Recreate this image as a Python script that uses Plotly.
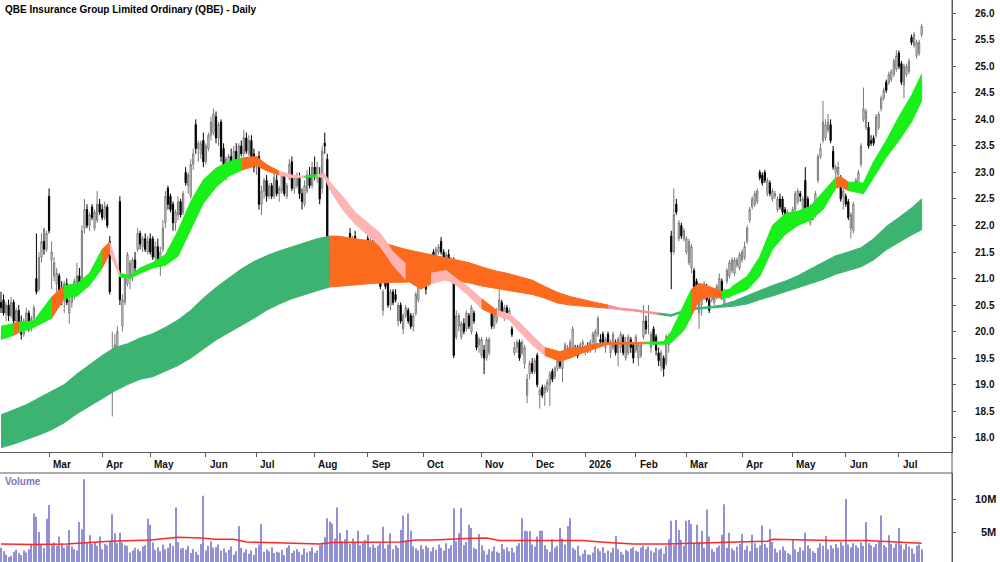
import plotly.graph_objects as go

# ------------------------------------------------------------------ data
month_idx = [19, 40, 59, 81, 101, 124, 145, 167, 190, 210, 231, 251, 271, 293, 313, 334, 355]
month_lbl = ["Mar", "Apr", "May", "Jun", "Jul", "Aug", "Sep", "Oct", "Nov", "Dec",
             "2026", "Feb", "Mar", "Apr", "May", "Jun", "Jul"]

opens = [
    20.55,20.60,20.35,20.50,20.30,20.55,20.20,20.40,20.15,19.95,
    20.20,20.35,20.10,20.25,21.00,20.80,21.40,21.70,21.55,22.55,
    21.35,21.05,20.90,21.05,20.75,20.65,20.90,20.35,20.55,20.70,
    20.90,21.05,21.00,21.95,22.30,22.00,22.35,21.95,22.10,22.40,
    22.30,22.15,22.35,21.70,19.05,19.40,19.70,22.45,20.10,20.55,
    20.90,21.00,21.05,21.35,21.55,21.85,21.60,21.75,21.50,21.75,
    21.75,21.40,21.60,21.35,21.55,22.05,22.70,22.55,22.40,22.05,
    22.20,22.45,22.25,23.00,22.75,22.55,23.15,23.90,23.45,23.35,
    23.60,23.20,23.45,23.70,23.75,24.05,23.65,23.95,23.45,23.10,
    23.00,23.30,23.15,23.40,23.20,23.50,23.35,23.65,23.35,23.60,
    23.35,23.10,23.30,22.40,22.65,22.85,22.55,22.75,22.55,22.85,
    22.60,22.65,22.95,22.55,22.90,23.20,22.70,22.75,22.90,22.60,
    22.40,22.65,22.95,22.75,23.10,22.90,22.95,22.70,23.55,23.25,
    21.45,21.05,21.40,21.15,21.50,21.35,21.65,21.40,21.85,21.65,
    21.80,21.35,21.10,21.20,21.50,21.75,21.45,21.70,21.30,21.50,
    21.55,20.40,21.00,21.00,20.50,20.75,20.70,20.20,20.50,20.05,
    20.30,20.40,20.30,20.10,20.35,20.60,20.85,21.00,21.05,21.00,
    21.20,21.50,21.35,21.50,21.70,21.50,21.30,21.45,21.20,21.35,
    19.90,20.10,19.90,20.15,20.05,20.30,20.00,20.35,19.95,19.75,
    19.55,19.65,19.50,19.60,20.35,20.10,20.20,20.35,20.55,20.25,
    20.45,20.30,20.05,19.60,19.70,19.80,19.60,19.40,18.80,19.20,
    19.40,19.25,19.55,18.80,18.95,18.85,18.90,19.00,19.25,19.15,
    19.30,19.50,19.30,19.60,19.60,19.65,19.65,19.70,19.65,19.65,
    19.75,19.65,19.70,19.65,19.80,19.70,19.95,19.85,19.95,19.70,
    19.95,19.60,19.70,19.80,19.60,19.70,19.90,19.50,19.60,19.85,
    19.75,19.65,19.50,19.55,19.90,20.20,20.10,19.70,20.05,19.90,
    19.60,19.35,19.50,19.40,19.75,21.80,21.50,22.40,21.75,22.00,
    21.75,21.50,21.30,21.20,21.15,20.95,20.35,20.50,20.65,20.85,
    20.60,20.60,20.55,20.65,20.70,20.95,20.50,20.95,21.05,21.15,
    21.10,21.25,21.20,21.35,21.40,21.70,22.10,22.35,22.40,22.45,
    23.00,22.95,23.00,22.60,22.80,22.50,22.55,22.30,22.50,22.50,
    22.30,22.10,22.20,22.15,22.30,22.45,22.60,22.30,22.85,22.50,
    22.05,22.35,22.20,22.85,23.30,23.60,23.65,23.80,23.90,23.40,
    23.00,22.95,22.85,22.55,22.55,22.45,21.95,21.90,22.70,22.80,
    23.15,24.00,23.85,23.85,23.60,23.65,23.70,23.85,24.20,24.40,
    24.70,24.70,24.75,24.85,24.95,25.25,25.05,24.65,24.85,24.90,
    25.55,25.40,25.20,25.25,25.60,
]
highs = [
    20.75,20.70,20.55,20.60,20.65,20.60,20.45,20.50,20.30,20.25,
    20.45,20.40,20.30,20.50,21.85,21.50,21.85,21.95,21.90,22.70,
    21.70,21.40,21.20,21.10,20.95,20.95,21.00,20.65,20.85,21.00,
    21.30,21.20,22.00,22.50,22.40,22.25,22.40,22.30,22.65,22.50,
    22.40,22.45,22.40,21.80,20.00,19.95,20.10,22.55,20.70,21.05,
    21.50,21.35,21.40,21.50,21.95,21.90,21.80,21.85,21.80,21.85,
    21.80,21.70,21.75,21.60,22.10,22.65,22.75,22.60,22.45,22.30,
    22.55,22.50,22.65,23.10,23.00,23.25,23.45,24.00,23.60,23.60,
    23.75,23.55,23.75,24.05,24.20,24.15,23.95,24.00,23.55,23.30,
    23.35,23.45,23.50,23.55,23.55,23.60,23.80,23.75,23.70,23.70,
    23.45,23.30,23.40,22.75,22.90,22.95,22.80,22.80,23.00,22.95,
    22.75,23.00,23.00,22.80,23.25,23.30,22.95,23.00,23.00,22.70,
    22.85,23.05,23.10,23.20,23.30,23.20,23.10,23.50,23.75,23.35,
    21.55,21.45,21.50,21.60,21.60,21.80,21.75,21.65,21.95,21.80,
    21.90,21.45,21.35,21.60,21.65,21.85,21.80,21.80,21.75,21.85,
    21.70,20.80,21.05,21.05,20.80,20.80,20.80,20.55,20.55,20.35,
    20.50,20.45,20.35,20.35,20.75,20.90,21.20,21.20,21.10,21.25,
    21.45,21.55,21.60,21.65,21.78,21.55,21.50,21.55,21.40,21.40,
    20.40,20.35,20.20,20.25,20.40,20.35,20.50,20.40,20.00,19.90,
    19.90,19.75,19.90,19.90,20.40,20.35,20.45,20.80,20.60,20.50,
    20.50,20.45,20.10,19.80,19.85,19.85,19.85,19.75,19.20,19.45,
    19.50,19.50,19.60,18.95,19.00,19.00,19.10,19.25,19.30,19.35,
    19.50,19.60,19.65,19.80,19.75,19.85,20.10,19.75,19.75,19.80,
    19.85,19.75,19.80,19.85,20.00,20.05,20.30,19.95,20.00,19.90,
    20.00,19.85,20.00,19.85,19.90,20.00,19.95,19.90,19.95,19.90,
    19.80,19.95,19.80,19.80,20.50,20.30,20.50,20.00,20.10,19.95,
    19.70,19.65,19.55,19.95,19.95,21.90,22.70,22.50,22.10,22.05,
    21.95,21.80,21.75,21.65,21.20,21.00,20.90,20.90,20.95,20.90,
    20.65,20.75,20.70,20.90,21.10,21.00,20.80,21.20,21.35,21.40,
    21.40,21.40,21.50,21.55,21.70,22.00,22.35,22.55,22.65,22.70,
    23.05,23.00,23.05,22.90,22.85,22.70,22.65,22.55,22.60,22.55,
    22.35,22.30,22.25,22.35,22.65,22.70,22.65,22.55,23.10,22.55,
    22.40,22.40,22.65,23.35,23.55,24.35,24.00,24.10,24.00,23.50,
    23.15,23.20,22.95,22.70,22.60,22.50,22.25,22.45,22.90,23.05,
    23.55,24.60,24.20,23.95,23.70,23.70,24.10,24.15,24.45,24.60,
    24.75,24.90,24.95,25.15,25.30,25.30,25.10,25.05,25.05,25.15,
    25.60,25.65,25.50,25.50,25.80,
]
lows = [
    20.35,20.30,20.20,20.20,20.25,20.10,20.10,20.05,19.85,19.90,
    20.05,20.00,20.00,20.20,20.70,20.75,21.30,21.45,21.50,21.85,
    20.80,20.95,20.75,20.65,20.50,20.35,20.50,20.15,20.45,20.60,
    20.85,20.75,20.95,21.85,21.95,21.90,22.10,21.90,22.05,22.20,
    22.10,22.10,21.95,20.70,18.40,19.25,19.50,20.50,20.00,20.50,
    20.85,20.80,20.95,21.10,21.50,21.55,21.50,21.50,21.45,21.45,
    21.35,21.30,21.30,21.05,21.50,21.95,22.30,22.25,21.90,21.90,
    22.10,22.15,22.20,22.75,22.60,22.50,23.05,23.35,23.20,23.25,
    23.10,23.15,23.40,23.60,23.70,23.55,23.50,23.20,23.05,22.85,
    22.95,23.10,23.10,23.15,23.15,23.30,23.30,23.35,23.30,23.25,
    23.00,22.95,22.30,22.20,22.50,22.45,22.50,22.50,22.50,22.55,
    22.45,22.60,22.55,22.50,22.85,22.65,22.60,22.70,22.50,22.30,
    22.35,22.60,22.70,22.70,22.85,22.80,22.40,22.60,23.35,21.35,
    20.95,20.85,20.90,21.05,21.15,21.30,21.30,21.30,21.60,21.50,
    21.05,21.00,21.00,21.15,21.25,21.20,21.40,21.55,21.25,21.45,
    20.80,20.30,20.80,20.45,20.40,20.50,20.55,20.10,20.15,19.95,
    20.25,20.15,20.05,20.00,20.30,20.55,20.80,20.90,20.70,20.95,
    21.10,21.25,21.30,21.45,21.45,21.25,21.20,21.15,21.10,19.50,
    19.85,20.00,19.85,19.95,20.00,20.05,19.95,20.15,19.65,19.60,
    19.50,19.20,19.45,19.55,20.05,20.05,20.15,20.30,20.30,20.20,
    20.30,20.25,19.90,19.55,19.60,19.45,19.55,19.30,18.65,19.10,
    19.20,19.20,18.95,18.55,18.75,18.60,18.85,18.60,19.05,19.10,
    19.25,19.30,19.05,19.55,19.55,19.60,19.60,19.55,19.50,19.60,
    19.70,19.55,19.60,19.60,19.75,19.60,19.90,19.75,19.75,19.60,
    19.75,19.50,19.65,19.55,19.35,19.60,19.55,19.45,19.55,19.60,
    19.40,19.60,19.35,19.50,19.85,19.95,19.95,19.60,19.75,19.55,
    19.35,19.25,19.15,19.35,19.60,20.80,21.45,22.20,21.70,21.75,
    21.70,21.45,21.25,21.10,20.80,20.60,20.05,20.30,20.60,20.55,
    20.35,20.55,20.50,20.60,20.65,20.60,20.45,20.90,21.00,21.10,
    21.05,21.20,21.15,21.30,21.35,21.65,22.05,22.30,22.35,22.40,
    22.85,22.75,22.80,22.55,22.55,22.45,22.50,22.25,22.30,22.20,
    22.00,22.05,22.05,22.10,22.25,22.40,22.45,22.25,22.10,22.10,
    22.00,22.10,22.15,22.80,23.25,23.55,23.60,23.75,23.55,23.05,
    22.90,22.90,22.45,22.30,22.35,22.10,21.75,21.85,22.65,22.75,
    23.10,23.95,23.80,23.45,23.50,23.50,23.65,23.80,24.15,24.35,
    24.50,24.65,24.70,24.80,24.90,24.95,24.65,24.40,24.80,24.85,
    25.40,25.35,25.15,25.20,25.55,
]
closes = [
    20.45,20.35,20.50,20.30,20.55,20.20,20.40,20.15,19.95,20.20,
    20.35,20.10,20.25,20.45,20.75,21.40,21.70,21.55,21.85,21.90,
    21.50,21.30,21.10,20.75,20.60,20.90,20.55,20.60,20.80,20.95,
    21.05,20.85,21.90,22.30,22.00,22.20,22.15,22.25,22.40,22.25,
    22.15,22.35,22.00,20.75,19.35,19.75,20.00,20.60,20.60,21.00,
    21.45,21.30,21.35,21.20,21.85,21.65,21.75,21.55,21.70,21.50,
    21.40,21.60,21.35,21.50,21.95,22.55,22.40,22.30,22.05,22.25,
    22.45,22.20,22.60,22.80,22.95,23.15,23.35,23.45,23.55,23.55,
    23.20,23.50,23.70,23.95,24.10,23.65,23.90,23.30,23.10,23.25,
    23.30,23.15,23.40,23.20,23.50,23.35,23.65,23.40,23.60,23.30,
    23.10,23.25,22.40,22.65,22.85,22.55,22.75,22.55,22.90,22.60,
    22.70,22.95,22.60,22.75,23.15,22.70,22.90,22.95,22.60,22.45,
    22.75,22.95,22.75,23.10,22.95,23.10,22.50,23.40,23.50,21.40,
    21.05,21.40,21.00,21.55,21.25,21.70,21.40,21.60,21.65,21.75,
    21.10,21.05,21.30,21.50,21.30,21.25,21.70,21.60,21.65,21.75,
    20.85,20.75,20.85,20.50,20.75,20.55,20.60,20.50,20.20,20.30,
    20.45,20.20,20.10,20.30,20.70,20.85,21.15,21.10,20.80,21.20,
    21.40,21.30,21.55,21.60,21.50,21.30,21.45,21.20,21.35,19.55,
    20.30,20.30,20.15,20.00,20.35,20.10,20.45,20.20,19.70,19.85,
    19.85,19.50,19.85,19.85,20.10,20.30,20.40,20.60,20.35,20.45,
    20.35,20.40,19.95,19.70,19.80,19.50,19.80,19.70,19.10,19.40,
    19.25,19.45,19.00,18.90,18.80,18.95,19.05,19.20,19.10,19.30,
    19.45,19.35,19.60,19.75,19.70,19.80,20.05,19.60,19.55,19.75,
    19.80,19.70,19.65,19.80,19.95,20.00,20.25,19.80,19.80,19.85,
    19.80,19.80,19.95,19.60,19.85,19.95,19.60,19.80,19.90,19.70,
    19.50,19.90,19.75,19.75,20.20,20.05,20.10,19.95,19.80,19.65,
    19.45,19.60,19.30,19.90,19.90,21.50,22.20,22.25,22.05,21.80,
    21.90,21.75,21.70,21.60,20.85,20.65,20.85,20.80,20.90,20.60,
    20.40,20.70,20.65,20.85,21.00,20.65,20.75,21.15,21.30,21.35,
    21.35,21.35,21.45,21.50,21.60,21.95,22.30,22.50,22.60,22.65,
    22.90,22.80,22.85,22.85,22.60,22.65,22.60,22.50,22.35,22.25,
    22.05,22.25,22.10,22.30,22.60,22.65,22.55,22.50,22.15,22.15,
    22.35,22.20,22.60,23.30,23.45,23.95,23.90,23.95,23.60,23.10,
    23.10,23.10,22.50,22.65,22.40,22.15,22.20,22.40,22.85,23.00,
    23.50,24.20,24.15,23.50,23.55,23.55,24.05,24.10,24.40,24.55,
    24.55,24.85,24.90,25.10,25.20,25.00,24.70,25.00,25.00,25.10,
    25.45,25.60,25.45,25.45,25.75,
]
volume_m = [
    2.6,2.1,1.6,1.2,1.4,2.0,2.3,1.8,1.5,2.2,
    1.9,2.4,3.1,7.8,7.3,5.0,3.2,2.6,7.0,9.1,
    3.0,3.4,2.9,4.3,3.3,2.6,3.0,5.3,2.8,2.4,
    2.2,6.5,5.4,13.0,3.3,4.5,3.2,3.5,2.9,4.3,
    2.4,3.2,3.0,3.6,7.7,4.8,3.3,4.9,3.4,3.0,
    2.9,1.9,2.2,2.6,2.4,2.1,2.8,3.0,7.0,6.1,
    3.4,2.3,2.7,2.1,3.1,2.4,2.6,3.3,2.9,8.7,
    3.5,2.5,2.6,2.3,2.9,1.8,2.4,2.0,1.6,3.2,
    10.5,2.2,2.9,3.6,2.6,2.7,3.1,2.2,2.5,1.9,
    2.3,2.8,1.6,2.1,5.9,2.6,1.9,2.4,1.7,2.2,
    1.5,2.6,3.1,6.2,2.0,2.4,2.1,2.7,1.8,2.0,
    1.9,2.3,1.5,2.6,3.0,1.8,2.2,2.4,2.0,1.6,
    2.5,1.9,2.1,2.7,1.8,2.2,3.0,3.4,4.2,7.1,
    6.6,6.3,4.0,8.7,4.9,3.6,3.9,5.3,3.2,4.0,
    3.5,5.2,3.0,3.3,3.8,4.6,2.7,3.1,2.6,2.9,
    3.3,5.8,2.5,3.1,4.8,2.4,3.0,2.6,5.3,7.5,
    3.7,7.8,5.2,2.8,2.5,2.2,3.0,2.4,2.9,2.6,
    2.1,2.7,2.3,3.1,2.6,2.2,3.3,2.5,3.0,8.6,
    3.6,4.8,8.6,3.0,3.5,6.1,5.6,2.6,2.4,4.7,
    3.0,2.2,1.6,2.4,2.1,2.8,2.0,1.8,3.2,2.4,
    2.7,2.1,2.6,1.9,2.9,3.3,7.1,5.2,5.1,5.1,
    3.1,2.8,4.3,5.2,5.2,3.0,2.4,2.0,3.9,2.6,
    2.9,5.6,4.0,3.1,5.9,7.1,2.6,2.3,2.9,1.4,
    1.7,2.3,1.6,1.5,1.9,2.8,2.5,2.1,2.7,1.8,
    2.2,1.9,2.6,4.4,2.4,2.0,1.6,2.3,2.1,2.5,
    2.7,2.2,2.0,2.6,2.9,2.4,2.8,2.2,1.9,2.6,
    2.3,2.5,1.7,2.9,3.9,6.7,3.0,6.8,5.3,3.8,
    2.9,6.7,6.8,6.2,3.2,6.1,3.4,5.2,2.6,8.4,
    4.3,2.4,2.0,2.6,2.9,4.6,9.2,2.6,4.9,2.5,
    2.2,2.8,3.2,4.7,2.3,2.9,2.1,4.6,3.3,2.6,
    3.0,6.0,3.2,2.6,5.4,3.5,2.5,1.9,2.3,2.8,
    2.2,1.8,1.6,3.8,2.4,2.0,2.7,2.2,4.9,3.0,
    2.5,2.1,1.8,2.6,3.3,2.9,4.4,2.4,3.0,2.5,
    3.2,2.6,3.5,2.9,10.0,3.1,2.7,3.3,3.0,2.6,
    3.4,2.9,6.5,3.3,3.0,2.7,3.2,3.6,7.5,3.0,
    2.7,4.5,3.2,2.6,3.3,5.6,3.1,2.4,3.2,2.8,
    2.5,1.7,2.9,3.1,2.4,
]
vol_ma_idx = [0, 13, 26, 43, 59, 70, 79, 85, 92, 97, 105, 118, 126, 131, 145, 158, 164, 171,
              184, 192, 197, 210, 230, 237, 250, 263, 276, 290, 303, 305, 316, 329, 342, 355, 364]
vol_ma_m = [3.2, 3.1, 3.2, 3.6, 3.8, 4.2, 4.1, 3.9, 3.9, 3.5, 3.4, 3.3, 3.2, 3.4, 3.5, 3.5, 3.8, 3.8,
            4.0, 4.1, 3.7, 3.7, 3.7, 3.5, 3.2, 3.2, 3.3, 3.4, 3.6, 3.9, 3.8, 3.7, 3.7, 3.4, 3.3]

# short-term moving-average ribbon (edges) and its trend state
short_idx = [0, 5, 7, 13, 20, 25, 30, 35, 40, 43, 47, 51, 55, 60, 65, 70, 75, 80, 85, 90, 95,
             101, 105, 110, 115, 120, 125, 128, 130, 135, 140, 145, 150, 155, 160, 166, 170, 176,
             180, 185, 190, 196, 201, 205, 210, 215, 221, 225, 230, 235, 240, 245, 250, 255, 262,
             265, 270, 273, 276, 280, 285, 288, 290, 295, 300, 305, 310, 315, 320, 325, 330, 332,
             335, 341, 345, 350, 355, 360, 364]
short_top = [20.10, 20.15, 20.18, 20.20, 20.65, 20.87, 20.90, 21.10, 21.55, 21.69, 21.10, 21.05,
             21.20, 21.30, 21.45, 21.90, 22.45, 22.86, 23.08, 23.20, 23.27, 23.30, 23.15, 23.02,
             22.95, 22.93, 22.96, 22.97, 22.82, 22.55, 22.25, 22.05, 21.85, 21.50, 21.28, 21.08,
             21.10, 21.15, 21.00, 20.83, 20.62, 20.40, 20.33, 20.17, 19.93, 19.70, 19.62, 19.69,
             19.71, 19.77, 19.79, 19.79, 19.80, 19.80, 19.81, 20.00, 20.50, 20.80, 20.91, 20.85,
             20.76, 20.80, 20.88, 21.04, 21.41, 22.00, 22.22, 22.27, 22.36, 22.62, 22.90, 22.92,
             22.82, 22.80, 23.20, 23.60, 24.05, 24.45, 24.85]
short_bot = [19.85, 19.93, 19.98, 20.08, 20.25, 20.62, 20.67, 20.87, 21.20, 21.48, 21.03, 21.00,
             21.10, 21.20, 21.25, 21.42, 21.93, 22.42, 22.72, 22.93, 23.04, 23.13, 23.03, 22.95,
             22.90, 22.90, 22.92, 22.90, 22.68, 22.30, 22.03, 21.82, 21.60, 21.25, 20.98, 20.80,
             20.90, 20.98, 20.88, 20.67, 20.43, 20.30, 20.22, 20.00, 19.75, 19.55, 19.44, 19.50,
             19.60, 19.68, 19.76, 19.77, 19.77, 19.77, 19.76, 19.79, 20.02, 20.30, 20.58, 20.66,
             20.63, 20.65, 20.70, 20.79, 21.04, 21.55, 21.83, 22.00, 22.10, 22.30, 22.70, 22.73,
             22.66, 22.60, 22.90, 23.28, 23.60, 23.95, 24.35]
short_trend = ["up", "mixed", "up", "up", "mixed", "up", "up", "up", "mixed", "down", "up", "up",
               "up", "up", "up", "up", "up", "up", "up", "up", "mixed", "mixed", "mixed", "down",
               "down", "up", "down", "down", "down", "down", "down", "down", "down", "down",
               "mixed", "mixed", "down", "down", "down", "down", "mixed", "down", "down", "down",
               "down", "mixed", "mixed", "mixed", "mixed", "mixed", "mixed", "mixed", "mixed",
               "up", "up", "up", "up", "mixed", "mixed", "mixed", "up", "up", "up", "up", "up",
               "up", "up", "up", "up", "up", "mixed", "mixed", "up", "up", "up", "up", "up", "up"]

# long-term moving-average ribbon and its trend state
long_idx = [0, 5, 10, 15, 20, 25, 30, 35, 40, 45, 50, 55, 60, 65, 70, 75, 80, 85, 90, 95, 100,
            105, 110, 115, 120, 125, 130, 133, 140, 145, 150, 155, 160, 165, 170, 175, 180, 185,
            190, 195, 200, 205, 210, 215, 220, 225, 230, 235, 240, 245, 250, 255, 260, 265, 270,
            275, 280, 285, 290, 295, 300, 305, 310, 315, 320, 325, 330, 335, 340, 345, 350, 355,
            360, 364]
long_top = [18.43, 18.52, 18.62, 18.75, 18.88, 19.00, 19.20, 19.38, 19.55, 19.70, 19.77, 19.88,
            19.96, 20.08, 20.22, 20.40, 20.63, 20.83, 21.00, 21.18, 21.32, 21.43, 21.52, 21.60,
            21.68, 21.75, 21.80, 21.80, 21.75, 21.71, 21.68, 21.62, 21.55, 21.50, 21.45, 21.40,
            21.36, 21.30, 21.22, 21.15, 21.10, 21.03, 20.97, 20.85, 20.74, 20.66, 20.60, 20.55,
            20.50, 20.44, 20.42, 20.39, 20.35, 20.32, 20.40, 20.45, 20.47, 20.50, 20.58, 20.68,
            20.78, 20.87, 20.95, 21.05, 21.18, 21.30, 21.43, 21.50, 21.58, 21.75, 21.98, 22.15,
            22.33, 22.50]
long_bot = [17.81, 17.88, 17.96, 18.05, 18.15, 18.28, 18.45, 18.60, 18.74, 18.88, 19.00, 19.10,
            19.15, 19.25, 19.36, 19.50, 19.67, 19.84, 19.98, 20.12, 20.25, 20.40, 20.52, 20.62,
            20.70, 20.77, 20.84, 20.85, 20.88, 20.90, 20.92, 20.93, 20.93, 20.96, 20.98, 20.98,
            20.95, 20.92, 20.86, 20.82, 20.78, 20.74, 20.70, 20.63, 20.54, 20.50, 20.48, 20.46,
            20.44, 20.41, 20.39, 20.36, 20.32, 20.29, 20.37, 20.42, 20.44, 20.46, 20.48, 20.52,
            20.60, 20.67, 20.74, 20.82, 20.90, 20.98, 21.08, 21.15, 21.22, 21.35, 21.54, 21.68,
            21.82, 21.92]
long_trend = ["up"] * 26 + ["mixed"] * 22 + ["down"] * 4 + ["up"] * 21

assert len(opens) == len(highs) == len(lows) == len(closes) == len(volume_m)
assert len(short_idx) == len(short_top) == len(short_bot) == len(short_trend) + 1
assert len(long_idx) == len(long_top) == len(long_bot) == len(long_trend) + 1

# ------------------------------------------------------------------ styling
W, H = 1000, 562
PLOT_RIGHT = 952 / W
PRICE_BOTTOM = 1 - 452 / H
VOL_TOP = 1 - 473 / H
XR = [-0.4, 376]
YR = [17.73, 26.25]
FONT = "Liberation Sans, Arial, sans-serif"

SHORT_COL = {"up": "#19ef19", "mixed": "#fc6a1e", "down": "#ffb4b4"}
LONG_COL = {"up": "#3cb371", "mixed": "#fc6a1e", "down": "#f59393"}

x = list(range(len(closes)))
fig = go.Figure()


def add_ribbon(idx, top, bot, trend, colors):
    k, nseg = 0, len(trend)
    while k < nseg:
        j = k
        while j + 1 < nseg and trend[j + 1] == trend[k]:
            j += 1
        xs = idx[k:j + 2]
        yt = top[k:j + 2]
        yb = bot[k:j + 2]
        c = colors[trend[k]]
        fig.add_trace(go.Scatter(
            x=xs + xs[::-1], y=yt + yb[::-1], fill="toself", fillcolor=c,
            mode="lines", line=dict(color=c, width=1), hoverinfo="skip",
            showlegend=False, xaxis="x", yaxis="y"))
        k = j + 1


add_ribbon(long_idx, long_top, long_bot, long_trend, LONG_COL)
add_ribbon(short_idx, short_top, short_bot, short_trend, SHORT_COL)

fig.add_trace(go.Candlestick(
    x=x, open=opens, high=highs, low=lows, close=closes,
    increasing=dict(line=dict(color="#7a7a7a", width=1), fillcolor="#ffffff"),
    decreasing=dict(line=dict(color="#000000", width=1), fillcolor="#000000"),
    whiskerwidth=0, showlegend=False, xaxis="x", yaxis="y"))

fig.add_trace(go.Bar(
    x=x, y=volume_m, width=0.42, marker=dict(color="#9191d3", line=dict(width=0)),
    showlegend=False, xaxis="x2", yaxis="y2"))
fig.add_trace(go.Scatter(
    x=vol_ma_idx, y=vol_ma_m, mode="lines", line=dict(color="#ff2626", width=1.5),
    showlegend=False, xaxis="x2", yaxis="y2"))

axis_col = "#5a5a5a"
label_font = dict(family=FONT, size=10, color="#111111", weight="bold")
fig.update_layout(
    width=W, height=H, margin=dict(l=0, r=0, t=0, b=0),
    paper_bgcolor="white", plot_bgcolor="white", showlegend=False,
    xaxis=dict(domain=[0, PLOT_RIGHT], range=XR, anchor="y", showgrid=False, zeroline=False,
               showline=True, linecolor=axis_col, linewidth=1, ticks="outside", ticklen=4,
               tickcolor=axis_col, tickvals=month_idx, showticklabels=False,
               rangeslider=dict(visible=False), fixedrange=True),
    # price axis: line + short ticks
    yaxis=dict(domain=[PRICE_BOTTOM, 1], range=YR, anchor="x", side="right",
               showgrid=False, zeroline=False, showline=True, linecolor=axis_col,
               ticks="outside", ticklen=3, tickcolor=axis_col, tick0=18, dtick=0.5,
               showticklabels=False),
    # same price scale, used only for its labels (set further out from the axis line)
    yaxis3=dict(domain=[PRICE_BOTTOM, 1], range=YR, anchor="x", overlaying="y", side="right",
                showgrid=False, zeroline=False, showline=False, ticks="outside", ticklen=20,
                tickcolor="rgba(0,0,0,0)", tick0=18, dtick=0.5, tickformat=".1f",
                tickfont=label_font),
    xaxis2=dict(domain=[0, PLOT_RIGHT], range=XR, anchor="y2", showgrid=False,
                zeroline=False, showline=False, showticklabels=False, ticks=""),
    yaxis2=dict(domain=[0, VOL_TOP], range=[0.4545, 13.94], anchor="x2", side="right",
                showgrid=False, zeroline=False, showline=True, linecolor=axis_col,
                ticks="outside", ticklen=3, tickcolor=axis_col, tickvals=[5, 10],
                showticklabels=False),
)
# an invisible point puts the label axis into use
fig.add_trace(go.Scatter(x=[XR[0]], y=[YR[0]], mode="markers", marker=dict(opacity=0),
                         hoverinfo="skip", showlegend=False, xaxis="x", yaxis="y3"))

# frame lines: full-height right axis line and the top edge of the volume pane
fig.add_shape(type="line", xref="paper", yref="paper", x0=PLOT_RIGHT, x1=PLOT_RIGHT,
              y0=0, y1=1, line=dict(color=axis_col, width=1), layer="above")
fig.add_shape(type="line", xref="paper", yref="paper", x0=0, x1=PLOT_RIGHT,
              y0=VOL_TOP, y1=VOL_TOP, line=dict(color=axis_col, width=1), layer="above")

# month labels (left-aligned just after each month tick)
for mi, lbl in zip(month_idx, month_lbl):
    fig.add_annotation(x=mi + 0.7, y=1 - 464 / H, xref="x", yref="paper", text=lbl,
                       showarrow=False, xanchor="left", yanchor="middle", font=label_font)

# volume scale labels
for v, lbl in [(10, "10M"), (5, "5M")]:
    fig.add_annotation(x=0.998, y=v, xref="paper", yref="y2", text=lbl, showarrow=False,
                       xanchor="right", yanchor="middle",
                       font=dict(family=FONT, size=11, color="#111111", weight="bold"))

fig.add_annotation(x=0.003, y=1 - 9.5 / H, xref="paper", yref="paper",
                   text="QBE Insurance Group Limited Ordinary (QBE) - Daily", showarrow=False,
                   xanchor="left", yanchor="middle",
                   font=dict(family=FONT, size=10, color="#000000", weight="bold"))
fig.add_annotation(x=0.003, y=1 - 481 / H, xref="paper", yref="paper", text="Volume",
                   showarrow=False, xanchor="left", yanchor="middle",
                   font=dict(family=FONT, size=10, color="#7878b8", weight="bold"))

fig.write_html("out.html")
